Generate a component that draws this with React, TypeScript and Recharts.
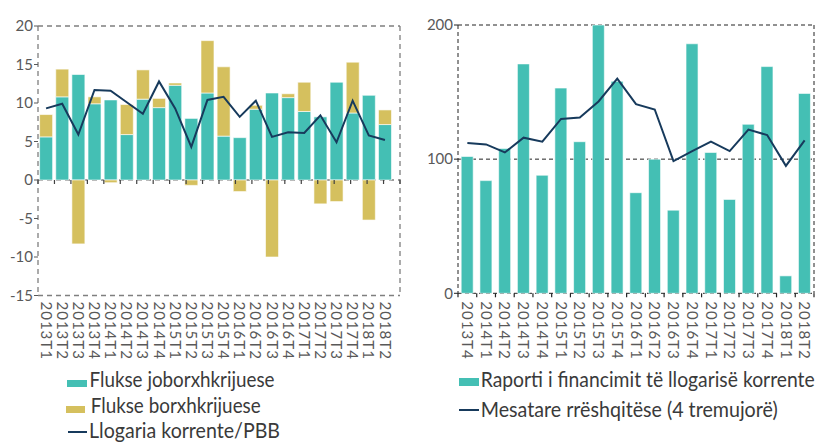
import React from 'react';
import {
  ComposedChart, Bar, Line, XAxis, YAxis, CartesianGrid, ReferenceLine,
} from 'recharts';

// Left panel: 2013T1 - 2018T2
const leftQuarters = [
  '2013T1', '2013T2', '2013T3', '2013T4', '2014T1', '2014T2', '2014T3', '2014T4',
  '2015T1', '2015T2', '2015T3', '2015T4', '2016T1', '2016T2', '2016T3', '2016T4',
  '2017T1', '2017T2', '2017T3', '2017T4', '2018T1', '2018T2',
];
const nonDebtFlows = [5.6, 10.8, 13.7, 9.9, 10.4, 5.9, 10.5, 9.4, 12.3, 8.0, 11.3, 5.7, 5.5, 9.2, 11.3, 10.7, 8.9, 8.2, 12.7, 8.7, 11.0, 7.2];
const debtFlows = [2.9, 3.6, -8.3, 0.9, -0.35, 3.9, 3.8, 1.2, 0.3, -0.7, 6.8, 9.0, -1.5, 0.5, -10.0, 0.5, 3.8, -3.1, -2.8, 6.6, -5.2, 1.9];
const currentAccountGdp = [9.3, 9.9, 5.9, 11.7, 11.6, 10.1, 8.6, 12.8, 9.3, 4.3, 10.4, 10.8, 8.2, 10.3, 5.6, 6.2, 6.1, 8.4, 4.9, 10.3, 5.8, 5.2];
const leftTicks = [-15, -10, -5, 0, 5, 10, 15, 20];

// Right panel: 2013T4 - 2018T2
const rightQuarters = [
  '2013T4', '2014T1', '2014T2', '2014T3', '2014T4', '2015T1', '2015T2', '2015T3',
  '2015T4', '2016T1', '2016T2', '2016T3', '2016T4', '2017T1', '2017T2', '2017T3',
  '2017T4', '2018T1', '2018T2',
];
const financingRatio = [102, 84, 108, 171, 88, 153, 113, 200, 158, 75, 100, 62, 186, 105, 70, 126, 169, 13, 149];
const movingAverage = [112, 111, 105, 116, 113, 130, 131, 143, 160, 141, 137, 98.5, 106, 113, 106, 122, 118, 95, 114];
const rightTicks = [0, 100, 200];

const TEAL = '#44bfb4';
const GOLD = '#d5c05e';
const NAVY = '#173a5c';
const GREY = '#595959';
const FONT = 'Lato, "DejaVu Sans", sans-serif';

const leftData = leftQuarters.map((q, i) => ({
  q, nonDebt: nonDebtFlows[i], debt: debtFlows[i], ca: currentAccountGdp[i],
}));
const rightData = rightQuarters.map((q, i) => ({
  q, ratio: financingRatio[i], avg: movingAverage[i],
}));

const VTick = (props: any) => {
  const { x, y, payload, gap } = props;
  return (
    <text x={x} y={y} dx={gap} dy="0.36em" transform={`rotate(90 ${x} ${y})`}
      fill={GREY} fontSize={15} letterSpacing={1} fontFamily={FONT} textAnchor="start">
      {payload.value}
    </text>
  );
};

// dashed zero line gets small tick marks at category boundaries
const zeroTicks = (n: number, color: string) => (props: any) => {
  const { x1, x2, y1 } = props;
  const a = Math.min(x1, x2);
  const b = Math.max(x1, x2);
  const step = (b - a) / n;
  const marks = [];
  for (let i = 0; i <= n; i++) {
    const x = a + i * step;
    marks.push(<line key={i} x1={x} x2={x} y1={y1} y2={y1 + 4} stroke={color} strokeWidth={1.2} />);
  }
  return <g>{marks}</g>;
};

const borders = ({ offset }: any) => [offset.left, offset.left + offset.width];

// condensed legend text: squeeze horizontally
const SX = 0.72;
const LegendText = ({ x, y, len, children }: any) => (
  <text transform={`translate(${x} ${y}) scale(${SX} 1)`} textLength={len / SX} lengthAdjust="spacingAndGlyphs"
    fontSize={21} fill="#3a3a3a" fontFamily={FONT}>
    {children}
  </text>
);

export default function App() {
  return (
    <div style={{ position: 'absolute', left: 0, top: 0, width: 824, height: 442, background: '#fff' }}>
      <div style={{ position: 'absolute', left: 0, top: 0 }}>
        <ComposedChart width={410} height={370} data={leftData} stackOffset="sign" barCategoryGap="10%"
          margin={{ top: 26, right: 10, left: 0, bottom: 0 }}>
          <CartesianGrid horizontalValues={[20, 0, -15]} verticalCoordinatesGenerator={borders}
            stroke="#7f7f7f" strokeDasharray="5 4" strokeWidth={1.3} />
          <XAxis dataKey="q" interval={0} tickSize={0} tickMargin={0} axisLine={false} height={74.5}
            padding={{ left: 0, right: 7 }} tick={<VTick gap={6} />} />
          <YAxis domain={[-15, 20]} ticks={leftTicks} width={38} axisLine={false} tickSize={4} tickMargin={1}
            tickLine={{ stroke: GREY }} tick={{ fill: GREY, fontSize: 15, fontFamily: FONT }} />
          <ReferenceLine y={0} stroke="none" shape={zeroTicks(22, '#404040')} />
          <Bar dataKey="nonDebt" stackId="s" fill={TEAL} stroke="rgba(255,255,255,0.6)" strokeWidth={1} isAnimationActive={false} />
          <Bar dataKey="debt" stackId="s" fill={GOLD} stroke="rgba(255,255,255,0.6)" strokeWidth={1} isAnimationActive={false} />
          <Line dataKey="ca" type="linear" stroke={NAVY} strokeWidth={2} dot={false} isAnimationActive={false} />
        </ComposedChart>
      </div>
      <div style={{ position: 'absolute', left: 420, top: 0 }}>
        <ComposedChart width={404} height={370} data={rightData} barCategoryGap="17%"
          margin={{ top: 25, right: 10, left: 0, bottom: 0 }}>
          <CartesianGrid horizontalValues={[200, 100, 0]} verticalCoordinatesGenerator={borders}
            stroke="#222" strokeDasharray="4 3" strokeWidth={1} />
          <XAxis dataKey="q" interval={0} tickSize={0} tickMargin={0} axisLine={false} height={76.7}
            tick={<VTick gap={8} />} />
          <YAxis domain={[0, 200]} ticks={rightTicks} width={38} axisLine={false} tickSize={4} tickMargin={1}
            tickLine={{ stroke: '#222' }} tick={{ fill: GREY, fontSize: 15, fontFamily: FONT }} />
          <ReferenceLine y={0} stroke="none" shape={zeroTicks(19, '#222')} />
          <Bar dataKey="ratio" fill={TEAL} stroke="rgba(255,255,255,0.6)" strokeWidth={1} isAnimationActive={false} />
          <Line dataKey="avg" type="linear" stroke={NAVY} strokeWidth={2} dot={false} isAnimationActive={false} />
        </ComposedChart>
      </div>
      <svg width={824} height={82} style={{ position: 'absolute', left: 0, top: 360 }}>
        <rect x={67} y={20} width={20} height={7} fill={TEAL} />
        <LegendText x={89.5} y={26.7} len={185}>Flukse joborxhkrijuese</LegendText>
        <rect x={66} y={46} width={19} height={7} fill={GOLD} />
        <LegendText x={90.7} y={53} len={170}>Flukse borxhkrijuese</LegendText>
        <line x1={68} x2={87} y1={72} y2={72} stroke={NAVY} strokeWidth={2} />
        <LegendText x={89} y={78} len={191}>Llogaria korrente/PBB</LegendText>

        <rect x={459} y={18} width={20} height={8} fill={TEAL} />
        <LegendText x={480.7} y={26.7} len={334}>Raporti i financimit të llogarisë korrente</LegendText>
        <line x1={459} x2={479} y1={50} y2={50} stroke={NAVY} strokeWidth={2} />
        <LegendText x={480.7} y={57} len={297}>Mesatare rrëshqitëse (4 tremujorë)</LegendText>
      </svg>
    </div>
  );
}
